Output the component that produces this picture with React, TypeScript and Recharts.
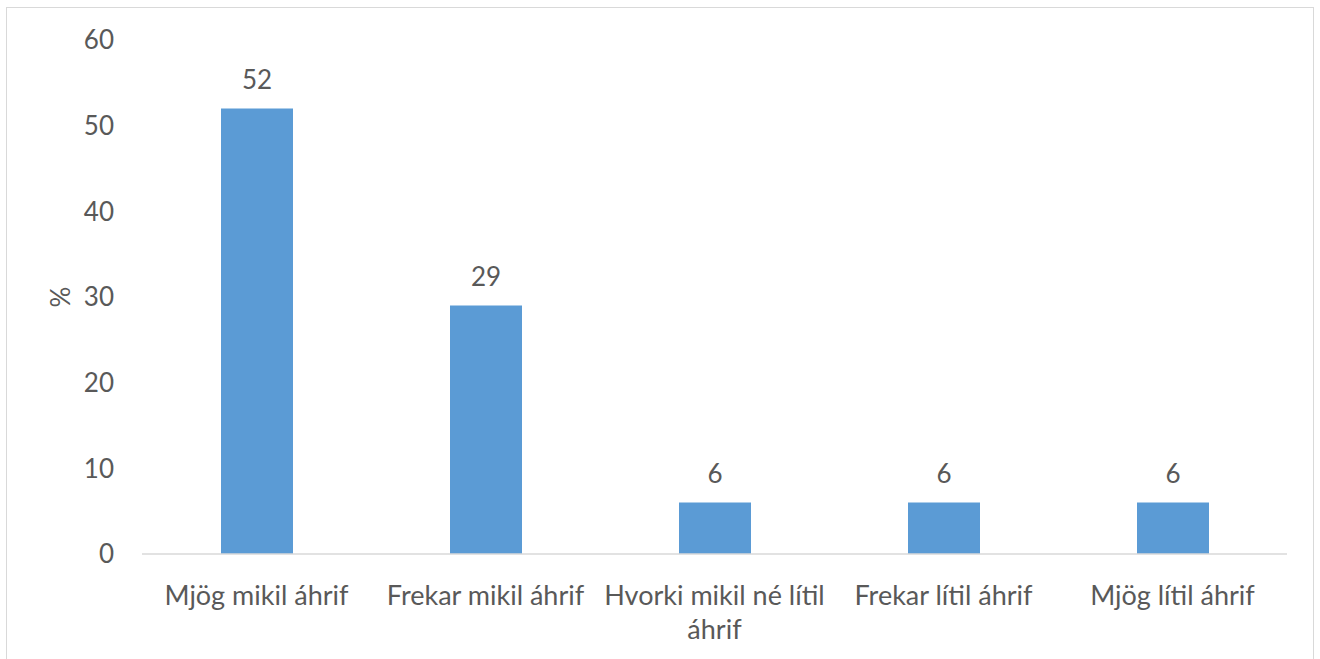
import { BarChart, Bar, XAxis, YAxis, LabelList, Label } from 'recharts';

const categories = [
  'Mjög mikil áhrif',
  'Frekar mikil áhrif',
  'Hvorki mikil né lítil\náhrif',
  'Frekar lítil áhrif',
  'Mjög lítil áhrif',
];
const percentages = [52, 29, 6, 6, 6];
const yTicks = [0, 10, 20, 30, 40, 50, 60];

const chartData = categories.map((name, i) => ({ name, value: percentages[i] }));

const FONT = 'Lato, "Open Sans", sans-serif';
const TEXT = '#595959';

function CategoryTick({ x, y, payload }: any) {
  const lines = String(payload.value).split('\n');
  return (
    <g>
      {lines.map((line, i) => (
        <text
          key={i}
          x={x}
          y={y + 43 + i * 34}
          textAnchor="middle"
          fill={TEXT}
          fontSize={27}
          fontFamily={FONT}
        >
          {line}
        </text>
      ))}
    </g>
  );
}

export default function App() {
  return (
    <div
      style={{
        position: 'absolute',
        left: 0,
        top: 0,
        width: 1320,
        height: 659,
        overflow: 'hidden',
        background: '#fff',
      }}
    >
      <div
        style={{
          position: 'absolute',
          left: 6,
          top: 7,
          width: 1306,
          height: 700,
          border: '1px solid #d9d9d9',
        }}
      />
      <div style={{ position: 'absolute', left: 0, top: 0 }}>
        <BarChart
          width={1320}
          height={659}
          data={chartData}
          margin={{ top: 40, right: 33, left: 0, bottom: 0 }}
        >
          <XAxis
            dataKey="name"
            height={105}
            interval={0}
            tickLine={false}
            axisLine={{ stroke: '#d9d9d9', strokeWidth: 1.5 }}
            tick={<CategoryTick />}
          />
          <YAxis
            width={142}
            domain={[0, 60]}
            ticks={yTicks}
            axisLine={false}
            tickLine={false}
            tickSize={0}
            tickMargin={28}
            tick={{ fill: TEXT, fontSize: 26, fontFamily: FONT }}
          >
            <Label
              content={({ viewBox }: any) => (
                <text
                  x={60}
                  y={viewBox.y + viewBox.height / 2}
                  transform={`rotate(-90 60 ${viewBox.y + viewBox.height / 2})`}
                  textAnchor="middle"
                  dominantBaseline="central"
                  fill={TEXT}
                  fontSize={26}
                  fontFamily={FONT}
                >
                  %
                </text>
              )}
            />
          </YAxis>
          <Bar dataKey="value" fill="#5b9bd5" barSize={72} isAnimationActive={false}>
            <LabelList
              dataKey="value"
              position="top"
              offset={20}
              fill={TEXT}
              fontSize={26}
              fontFamily={FONT}
            />
          </Bar>
        </BarChart>
      </div>
    </div>
  );
}
